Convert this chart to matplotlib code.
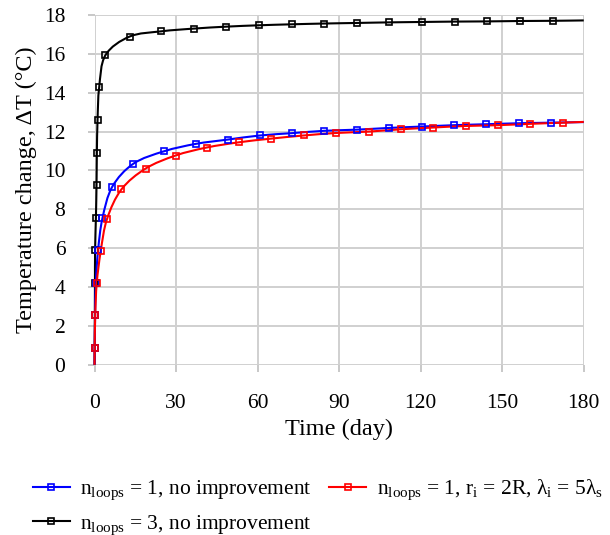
import matplotlib
matplotlib.use("Agg")
import matplotlib.pyplot as plt
import numpy as np
from matplotlib.path import Path
from matplotlib.patches import PathPatch
from matplotlib.lines import Line2D

plt.rcParams['font.family'] = ['Liberation Serif', 'DejaVu Serif']
plt.rcParams['mathtext.fontset'] = 'custom'
plt.rcParams['mathtext.rm'] = 'Liberation Serif'
plt.rcParams['mathtext.it'] = 'Liberation Serif'
plt.rcParams['mathtext.default'] = 'regular'

# time (day) and temperature change (degC)
t_black = [0, 0.05, 0.1, 0.15, 0.2, 0.5, 0.73, 0.85, 1.1, 1.7, 4.0, 12.9, 24.6, 36.6,
           48.5, 60.5, 72.5, 84.5, 96.5, 108.5, 120.5, 132.5, 144.5, 156.5, 168.5, 180]
dT_black = [0, 0.89, 2.55, 4.2, 5.9, 7.58, 9.26, 10.92, 12.6, 14.27, 15.93, 16.89, 17.16, 17.3,
            17.4, 17.47, 17.52, 17.56, 17.59, 17.62, 17.64, 17.66, 17.67, 17.69, 17.7, 17.72]

t_blue = [0, 0.05, 0.2, 0.45, 1.3, 2.9, 6.5, 14.3, 25.6, 37.3, 49.0, 60.8, 72.6, 84.4,
          96.4, 108.4, 120.4, 132.2, 144.2, 156.2, 168.1, 180]
dT_blue = [0, 0.89, 2.55, 4.2, 5.9, 7.54, 9.16, 10.35, 10.99, 11.37, 11.59, 11.8, 11.92, 12.04,
           12.1, 12.19, 12.26, 12.33, 12.38, 12.43, 12.46, 12.49]

t_red = [0, 0.05, 0.25, 0.8, 2.3, 4.6, 9.9, 18.8, 29.8, 41.2, 53.1, 65.0, 76.9, 89.0,
         100.8, 112.7, 124.6, 136.5, 148.4, 160.3, 172.3, 180]
dT_red = [0, 0.89, 2.55, 4.2, 5.88, 7.51, 9.03, 10.1, 10.77, 11.18, 11.45, 11.64, 11.8, 11.93,
          12.0, 12.12, 12.21, 12.29, 12.33, 12.4, 12.46, 12.5]

labels = [r'n$_{loops}$ = 1, no improvement',
          r'n$_{loops}$ = 3, no improvement',
          r'n$_{loops}$ = 1, r$_{i}$ = 2R, λ$_{i}$ = 5λ$_{s}$']
colors = ['#0000ff', '#000000', '#ff0000']

x_ticks = [0, 30, 60, 90, 120, 150, 180]
y_ticks = list(range(0, 19, 2))


def smooth_path(x, y):
    # Excel-style smoothed line: Catmull-Rom segments as cubic Beziers
    pts = np.column_stack([x, y]).astype(float)
    n = len(pts)
    verts = [pts[0]]
    codes = [Path.MOVETO]
    for i in range(n - 1):
        p0 = pts[i - 1] if i > 0 else pts[i]
        p1 = pts[i]
        p2 = pts[i + 1]
        p3 = pts[i + 2] if i + 2 < n else pts[i + 1]
        c1 = p1 + (p2 - p0) / 6.0
        c2 = p2 - (p3 - p1) / 6.0
        verts += [c1, c2, p2]
        codes += [Path.CURVE4] * 3
    return Path(verts, codes)


fig = plt.figure(figsize=(6.1, 5.35), dpi=100)
ax = fig.add_axes([0.155, 0.318, 0.802, 0.654])

series = [(t_blue, dT_blue), (t_black, dT_black), (t_red, dT_red)]
for k in [1, 0, 2]:
    x, y = series[k]
    c = colors[k]
    ax.add_patch(PathPatch(smooth_path(x, y), facecolor='none', edgecolor=c, lw=1.5,
                           zorder=3, clip_on=False))
    ax.plot(x[1:-1], y[1:-1], ls='none', marker='s', ms=4.6, mfc='none', mec=c, mew=1.2,
            zorder=4, clip_on=False)

ax.set_xlim(0, 180)
ax.set_ylim(0, 18)
ax.set_xticks(x_ticks)
ax.set_yticks(y_ticks)
for s in ax.spines.values():
    s.set_visible(False)
ax.grid(True, color='#d0d0d0', lw=1.4, zorder=0)
ax.set_axisbelow(True)
ax.tick_params(axis='both', length=5, width=1.4, color='#c8c8c8', labelsize=15.5, pad=16)
ax.set_xlabel('Time (day)', fontsize=17.5, labelpad=4)
ax.set_ylabel('Temperature change, ΔT (°C)', fontsize=17.5, labelpad=5)

handles = [Line2D([], [], color=colors[k], lw=1.5, marker='s', ms=4.6, mfc='none',
                  mec=colors[k], mew=1.2) for k in range(3)]
fig.legend(handles, labels, loc='upper left', bbox_to_anchor=(0.054, 0.107), ncol=2,
           frameon=False, fontsize=15.5, handlelength=1.7, columnspacing=0.8,
           handletextpad=0.5, labelspacing=0.5, borderpad=0, borderaxespad=0)

fig.savefig('out.png', dpi=100)
